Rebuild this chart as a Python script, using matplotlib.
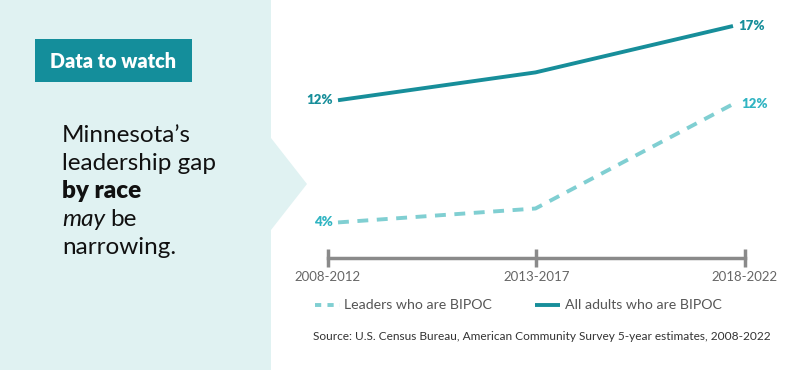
import matplotlib
matplotlib.use("Agg")
import matplotlib.pyplot as plt
from matplotlib.patches import Polygon, Rectangle

periods = ["2008-2012", "2013-2017", "2018-2022"]
leaders = [4.3, 5.2, 11.95]
adults = [12.2, 14.0, 17.0]
leader_labels = ["4%", None, "12%"]
adult_labels = ["12%", None, "17%"]
legend_names = ["Leaders who are BIPOC", "All adults who are BIPOC"]
source = "Source: U.S. Census Bureau, American Community Survey 5-year estimates, 2008-2022"

W, H = 812, 370
DARK = "#178e9a"
LIGHT = "#80cfd2"
LIGHT_TXT = "#30b4c2"
PANEL = "#e0f2f2"
GRAY = "#8a8a8a"
FONT = "Lato"

fig = plt.figure(figsize=(W / 100, H / 100), dpi=100)
fig.patch.set_facecolor("white")

def fx(px):
    return px / W

def fy(py):
    return 1 - py / H

# left panel with pointer
bg = fig.add_axes([0, 0, 1, 1])
bg.set_xlim(0, W)
bg.set_ylim(H, 0)
bg.axis("off")
bg.add_patch(Polygon([(0, 0), (271, 0), (271, 138), (307, 184), (271, 230),
                      (271, H), (0, H)], closed=True, facecolor=PANEL,
                     edgecolor="none"))
bg.add_patch(Rectangle((35, 39), 157, 43, facecolor="#148e9b", edgecolor="none"))
bg.text(113.5, 61, "Data to watch", color="white", fontsize=14.2,
        fontweight="heavy", ha="center", va="center", family=FONT)

lines_txt = [("Minnesota\u2019s", "normal", "normal"),
             ("leadership gap", "normal", "normal"),
             ("by race", "heavy", "normal")]
ys = [135, 163, 191, 219, 247]
FS = 17.5
for (t, w, s), y in zip(lines_txt, ys[:3]):
    bg.text(62, y, t, fontsize=FS, fontweight=w, style=s, color="#111111",
            ha="left", va="center", family=FONT)
t1 = bg.text(62, ys[3], "may", fontsize=FS, style="italic",
             color="#111111", ha="left", va="center", family=FONT)
fig.canvas.draw()
bb = t1.get_window_extent()
x_after = bb.x1 / fig.dpi * 100
bg.text(x_after + 5, ys[3], "be", fontsize=FS, color="#111111",
        ha="left", va="center", family=FONT)
bg.text(62, ys[4], "narrowing.", fontsize=FS, color="#111111",
        ha="left", va="center", family=FONT)

# axis (ticks) axes
top_px, bot_px = 26, 258
ax_t = fig.add_axes([fx(328), fy(bot_px), fx(745 - 328), (bot_px - top_px) / H])
ax_t.set_xlim(0, len(periods) - 1)
ax_t.set_ylim(2, 17)
ax_t.axis("off")
ax_t.axhline(2, color=GRAY, lw=2.5, clip_on=False)
for i, p in enumerate(periods):
    ax_t.plot([i, i], [2 - 9 / 15.47, 2 + 9 / 15.47], color=GRAY, lw=2.5,
              clip_on=False, solid_capstyle="butt")
    ax_t.text(i, 2 - 19 / 15.47, p, ha="center", va="center", fontsize=9.5,
              color="#666666", family=FONT)

# data lines axes (inset)
ax = fig.add_axes([fx(338), fy(bot_px), fx(733 - 338), (bot_px - top_px) / H])
ax.set_xlim(0, len(periods) - 1)
ax.set_ylim(2, 17)
ax.axis("off")
xs = list(range(len(periods)))
ax.plot(xs, adults, color=DARK, lw=2.8, clip_on=False,
        solid_joinstyle="round", solid_capstyle="butt")
ax.plot(xs, leaders, color=LIGHT, lw=2.8, clip_on=False,
        dashes=(2.8, 2.2), dash_capstyle="butt")
for i, (lab, v) in enumerate(zip(adult_labels, adults)):
    if lab:
        off = -5 if i == 0 else 5
        ax.annotate(lab, (i, v), xytext=(off * 0.72, 0), textcoords="offset points",
                    ha="right" if i == 0 else "left", va="center", fontsize=9.5,
                    fontweight="heavy", color=DARK, family=FONT)
for i, (lab, v) in enumerate(zip(leader_labels, leaders)):
    if lab:
        off = -5 if i == 0 else 8
        ax.annotate(lab, (i, v), xytext=(off * 0.72, 0), textcoords="offset points",
                    ha="right" if i == 0 else "left", va="center", fontsize=9.5,
                    fontweight="heavy", color=LIGHT_TXT, family=FONT)

# legend
bg.plot([315, 340], [305, 305], color=LIGHT, lw=2.8, dashes=(1.6, 1.6),
        dash_capstyle="butt")
bg.text(344, 305, legend_names[0], fontsize=10.2, color="#555555",
        ha="left", va="center", family=FONT)
bg.plot([535, 560], [305, 305], color=DARK, lw=2.8, solid_capstyle="butt")
bg.text(565, 305, legend_names[1], fontsize=10.2, color="#555555",
        ha="left", va="center", family=FONT)

bg.text(313, 336, source, fontsize=8.6, color="#333333", ha="left",
        va="center", family=FONT)

fig.savefig("out.png", dpi=100, facecolor="white")
